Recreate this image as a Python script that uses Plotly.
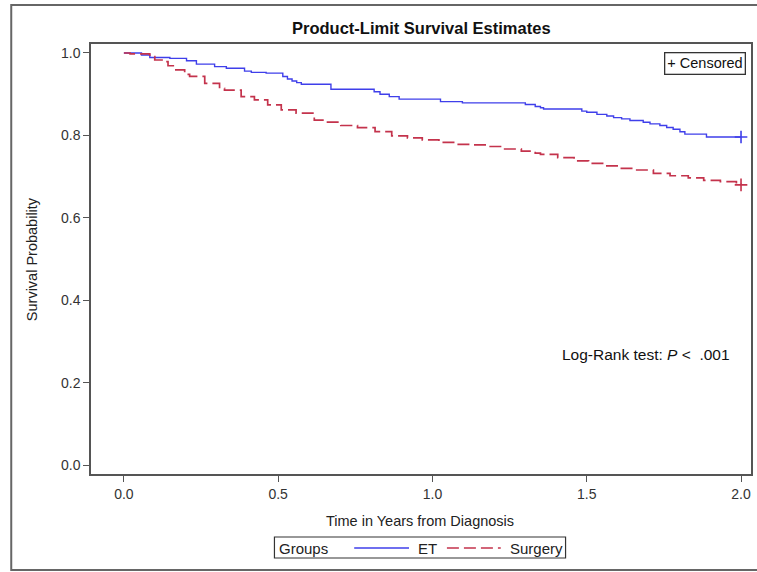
import plotly.graph_objects as go

# ---- data ----
groups = ["ET", "Surgery"]

et_time = [0, 0.057, 0.084, 0.149, 0.203, 0.235, 0.294, 0.332, 0.391, 0.413, 0.461,
           0.515, 0.53, 0.545, 0.56, 0.575, 0.671, 0.811, 0.83, 0.86, 0.892, 1.026,
           1.097, 1.301, 1.333, 1.35, 1.36, 1.484, 1.50, 1.533, 1.565, 1.587, 1.613,
           1.64, 1.683, 1.705, 1.737, 1.759, 1.78, 1.802, 1.818, 1.888, 2.0]
et_surv = [1.0, 0.995, 0.989, 0.987, 0.981, 0.973, 0.967, 0.963, 0.956, 0.953, 0.951,
           0.943, 0.937, 0.932, 0.928, 0.924, 0.912, 0.906, 0.900, 0.894, 0.888, 0.882,
           0.879, 0.875, 0.870, 0.867, 0.864, 0.859, 0.856, 0.851, 0.847, 0.843, 0.840,
           0.836, 0.832, 0.828, 0.824, 0.819, 0.815, 0.809, 0.803, 0.796, 0.796]

sur_time = [0, 0.02, 0.084, 0.100, 0.132, 0.143, 0.165, 0.197, 0.213, 0.262, 0.31,
            0.326, 0.38, 0.423, 0.466, 0.51, 0.558, 0.617, 0.649, 0.703, 0.757, 0.814,
            0.868, 0.919, 0.967, 1.021, 1.075, 1.134, 1.177, 1.234, 1.288, 1.333, 1.35,
            1.406, 1.459, 1.506, 1.556, 1.603, 1.662, 1.716, 1.77, 1.829, 1.879, 1.933,
            1.985, 2.0]
sur_surv = [1.0, 0.998, 0.991, 0.983, 0.979, 0.969, 0.959, 0.948, 0.943, 0.926, 0.914,
            0.910, 0.894, 0.886, 0.874, 0.862, 0.854, 0.837, 0.832, 0.824, 0.819, 0.809,
            0.799, 0.794, 0.789, 0.783, 0.778, 0.777, 0.773, 0.767, 0.762, 0.757, 0.754,
            0.746, 0.738, 0.732, 0.726, 0.720, 0.716, 0.708, 0.702, 0.697, 0.691, 0.688,
            0.681, 0.680]

censor_time = [2.0, 2.0]
censor_surv = [et_surv[-1], sur_surv[-1]]

x_ticks = [0.0, 0.5, 1.0, 1.5, 2.0]
y_ticks = [0.0, 0.2, 0.4, 0.6, 0.8, 1.0]

# ---- styling ----
W, H = 757, 572
L, R, T, B = 91, 4, 44, 98
PW, PH = W - L - R, H - T - B
FONT = "Liberation Sans, Arial, sans-serif"
BLUE = "#3F3FEA"
RED = "#C4334C"
colors = [BLUE, RED]


def px(x):
    return (x - L) / PW


def py(y):
    return (H - B - y) / PH


fig = go.Figure()
fig.add_trace(go.Scatter(x=et_time, y=et_surv, mode="lines", line_shape="hv",
                         line=dict(color=BLUE, width=1.4), name=groups[0], showlegend=False))
fig.add_trace(go.Scatter(x=sur_time, y=sur_surv, mode="lines", line_shape="hv",
                         line=dict(color=RED, width=1.7, dash="12px,5px"), name=groups[1],
                         showlegend=False))
fig.add_trace(go.Scatter(x=censor_time, y=censor_surv, mode="markers",
                         marker=dict(symbol="cross-thin", size=9,
                                     line=dict(width=1.6, color=colors)),
                         showlegend=False, hoverinfo="skip", cliponaxis=False))

axis_common = dict(showline=True, mirror=True, linecolor="#555555", linewidth=1.5,
                   ticks="outside", ticklen=6, tickwidth=1.2, tickcolor="#555555",
                   showgrid=False, zeroline=False, tickformat=".1f",
                   tickfont=dict(family=FONT, size=14, color="#333333"))

fig.update_xaxes(range=[-0.1066, 2.0323], tickvals=x_ticks, **axis_common)
fig.update_yaxes(range=[-0.0218, 1.0218], tickvals=y_ticks, **axis_common)

annotations = [
    dict(text="<b>Product-Limit Survival Estimates</b>", x=px(422), y=py(28), xref="paper",
         yref="paper", showarrow=False, font=dict(family=FONT, size=16.5, color="#111111"),
         xanchor="center", yanchor="middle"),
    dict(text="Time in Years from Diagnosis", x=px(421), y=py(521), xref="paper",
         yref="paper", showarrow=False, font=dict(family=FONT, size=14.5, color="#222222"),
         xanchor="center", yanchor="middle"),
    dict(text="Survival Probability", x=px(32), y=0.5, xref="paper", yref="paper",
         showarrow=False, textangle=-90, font=dict(family=FONT, size=14.5, color="#222222"),
         xanchor="center", yanchor="middle"),
    dict(text="+ Censored", x=px(748), y=py(52), xref="paper", yref="paper",
         showarrow=False, xanchor="right", yanchor="top", bordercolor="#333333",
         borderwidth=1.3, borderpad=2, bgcolor="white",
         font=dict(family=FONT, size=14.5, color="#111111")),
    dict(text="Log-Rank test:\u00a0<i>P</i>\u00a0<\u00a0\u00a0.001", x=px(734), y=py(354),
         xref="paper", yref="paper", showarrow=False, xanchor="right", yanchor="middle",
         font=dict(family=FONT, size=15.5, color="#111111")),
    # custom legend texts
    dict(text="Groups", x=px(278), y=py(548), xref="paper", yref="paper", showarrow=False,
         xanchor="left", yanchor="middle", font=dict(family=FONT, size=15, color="#222222")),
    dict(text=groups[0], x=px(417), y=py(548), xref="paper", yref="paper", showarrow=False,
         xanchor="left", yanchor="middle", font=dict(family=FONT, size=15, color="#222222")),
    dict(text=groups[1], x=px(566), y=py(548), xref="paper", yref="paper", showarrow=False,
         xanchor="right", yanchor="middle", font=dict(family=FONT, size=15, color="#222222")),
]

shapes = [
    # outer frame
    dict(type="rect", xref="paper", yref="paper", x0=px(11), x1=px(770), y0=py(570),
         y1=py(5), line=dict(color="#666666", width=2)),
    # legend box
    dict(type="rect", xref="paper", yref="paper", x0=px(275), x1=px(567), y0=py(558),
         y1=py(537), line=dict(color="#333333", width=1.2)),
    # legend line samples
    dict(type="line", xref="paper", yref="paper", x0=px(355), x1=px(410), y0=py(548),
         y1=py(548), line=dict(color=BLUE, width=1.4)),
    dict(type="line", xref="paper", yref="paper", x0=px(448), x1=px(502), y0=py(548),
         y1=py(548), line=dict(color=RED, width=1.6, dash="12px,5px")),
]

fig.update_layout(width=W, height=H, autosize=False,
                  margin=dict(l=L, r=R, t=T, b=B, pad=0),
                  paper_bgcolor="white", plot_bgcolor="white",
                  annotations=annotations, shapes=shapes,
                  font=dict(family=FONT))

fig.write_html("out.html",
               config={"displayModeBar": False},
               post_script="document.body.style.margin='0';"
                           "document.body.style.overflow='hidden';")
